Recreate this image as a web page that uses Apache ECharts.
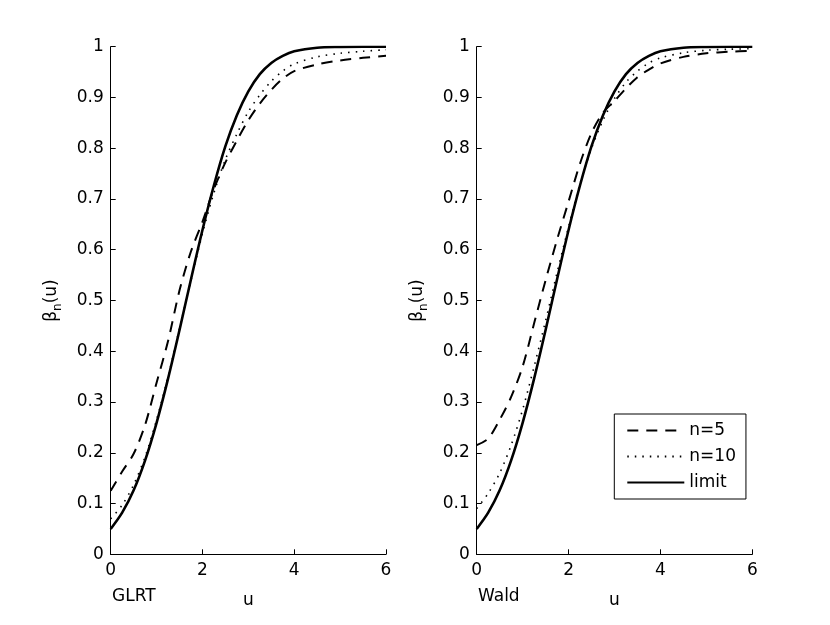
<!DOCTYPE html>
<html>
<head>
  <meta charset="UTF-8">
  <title>Power curves</title>
  <script src="https://cdn.jsdelivr.net/npm/echarts@6.0.0/dist/echarts.min.js"></script>
  <style>
    html, body { margin: 0; padding: 0; background: #fff; }
  </style>
</head>
<body>
  <div id="main" style="width: 830px; height: 625px;"></div>
  <script>
    // values
    const uValues = [0, 0.25, 0.5, 0.75, 1, 1.25, 1.5, 1.75, 2, 2.25, 2.5, 2.75, 3, 3.25, 3.5, 3.75, 4, 4.5, 5, 5.5, 6];
    const limitValues = [0.050, 0.082, 0.126, 0.185, 0.259, 0.346, 0.442, 0.542, 0.639, 0.727, 0.804, 0.865, 0.912, 0.946, 0.968, 0.982, 0.991, 0.998, 0.9995, 1.0, 1.0];
    const glrtN5 = [0.125, 0.163, 0.198, 0.255, 0.338, 0.420, 0.520, 0.597, 0.655, 0.720, 0.772, 0.815, 0.855, 0.888, 0.915, 0.937, 0.952, 0.965, 0.973, 0.978, 0.982];
    const glrtN10 = [0.070, 0.097, 0.137, 0.192, 0.265, 0.350, 0.445, 0.540, 0.632, 0.712, 0.778, 0.828, 0.872, 0.905, 0.932, 0.952, 0.966, 0.980, 0.987, 0.991, 0.994];
    const waldN5 = [0.215, 0.228, 0.265, 0.310, 0.370, 0.455, 0.540, 0.620, 0.695, 0.770, 0.830, 0.870, 0.893, 0.918, 0.940, 0.955, 0.967, 0.980, 0.987, 0.990, 0.992];
    const waldN10 = [0.090, 0.120, 0.160, 0.215, 0.285, 0.370, 0.460, 0.555, 0.645, 0.730, 0.800, 0.855, 0.898, 0.930, 0.952, 0.968, 0.978, 0.988, 0.993, 0.995, 0.996];
    const seriesNames = ['n=5', 'n=10', 'limit'];
    const panelNames = ['GLRT', 'Wald'];

    const font = 'DejaVu Sans, Liberation Sans, sans-serif';
    const fs = 17;
    const pairs = (ys) => uValues.map((u, i) => [u, ys[i]]);

    const styles = {
      'n=5': { type: [11, 8], width: 2 },
      'n=10': { type: [1.5, 6], width: 1.6 },
      'limit': { type: 'solid', width: 2.6 }
    };

    const panels = [[glrtN5, glrtN10, limitValues], [waldN5, waldN10, limitValues]];
    const series = [];
    panels.forEach((sets, p) => {
      sets.forEach((ys, k) => {
        const name = seriesNames[k];
        series.push({
          name: name,
          type: 'line',
          xAxisIndex: p,
          yAxisIndex: p,
          data: pairs(ys),
          symbol: 'none',
          smooth: 0.3,
          color: '#000',
          lineStyle: { color: '#000', width: styles[name].width, type: styles[name].type },
          z: k === 2 ? 3 : 2
        });
      });
    });

    const grids = [
      { left: 110.7, top: 46.7, width: 275.3, height: 507.6 },
      { left: 476.7, top: 46.7, width: 275.6, height: 507.6 }
    ];

    const axisCommon = {
      axisLine: { show: true, lineStyle: { color: '#000', width: 1 } },
      axisTick: { show: true, inside: true, length: 5, lineStyle: { color: '#000' } },
      splitLine: { show: false },
      axisLabel: { color: '#000', fontSize: fs, fontFamily: font }
    };

    const chart = echarts.init(document.getElementById('main'));
    chart.setOption({
      animation: false,
      backgroundColor: '#fff',
      title: panelNames.map((t, i) => ({
        text: t,
        left: i === 0 ? 112 : 478,
        top: 588,
        padding: 0,
        textStyle: { color: '#000', fontSize: fs, fontWeight: 'normal', fontFamily: font }
      })),
      grid: grids,
      xAxis: grids.map((g, i) => Object.assign({}, axisCommon, {
        type: 'value',
        gridIndex: i,
        min: 0,
        max: 6,
        interval: 2,
        name: 'u',
        nameLocation: 'middle',
        nameGap: 38,
        nameTextStyle: { color: '#000', fontSize: fs, fontFamily: font },
        axisLabel: Object.assign({}, axisCommon.axisLabel, { margin: 8 })
      })),
      yAxis: grids.map((g, i) => Object.assign({}, axisCommon, {
        type: 'value',
        gridIndex: i,
        min: 0,
        max: 1,
        interval: 0.1,
        name: '{a|β}{b|n}{a|(u)}',
        nameLocation: 'middle',
        nameGap: 47,
        nameRotate: 90,
        nameTextStyle: {
          color: '#000',
          fontFamily: font,
          rich: {
            a: { fontSize: fs, fontFamily: font, color: '#000', lineHeight: 24 },
            b: { fontSize: 12, fontFamily: font, color: '#000', lineHeight: 14, verticalAlign: 'bottom' }
          }
        },
        axisLabel: Object.assign({}, axisCommon.axisLabel, { margin: 7 })
      })),
      legend: {
        data: seriesNames,
        orient: 'vertical',
        left: 614.3,
        top: 414,
        padding: [8, 10, 8, 12],
        itemWidth: 57,
        itemHeight: 14,
        itemGap: 9,
        borderColor: '#000',
        borderWidth: 1,
        borderRadius: 0,
        backgroundColor: '#fff',
        itemStyle: { color: 'rgba(0,0,0,0)', borderWidth: 0, opacity: 0 },
        textStyle: { color: '#000', fontSize: fs, fontFamily: font }
      },
      series: series
    });
  </script>
</body>
</html>
